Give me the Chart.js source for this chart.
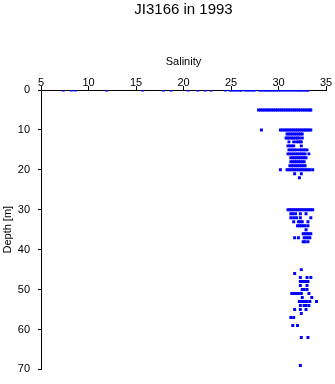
<!DOCTYPE html>
<html>
<head>
<meta charset="utf-8">
<script src="https://cdn.jsdelivr.net/npm/chart.js@4"></script>
<style>
  html, body { margin: 0; padding: 0; background: #fff; }
  #wrap { width: 335px; height: 384px; }
</style>
</head>
<body>
<div id="wrap"><canvas id="myChart" width="335" height="384"></canvas></div>
<script>
// depth levels [m] and the salinity readings seen at each level
const depthLevels = [0, 5, 10, 11, 12, 13, 14, 15, 16, 17, 18, 19, 20, 21, 22,
  30, 31, 32, 33, 34, 35, 36, 37, 38,
  45, 46, 47, 48, 49, 50, 51, 52, 53, 54, 55, 56, 57, 59, 62, 69];

const salinityAtLevel = [
  [7.35, 8.2, 8.6, 11.9, 15.7, 17.9, 18.7, 20.5, 21.5, 22.3, 22.9, 24.4,
   24.9, 25.1, 25.3, 25.5, 25.7, 25.9, 26.1, 26.5, 26.7, 26.9, 27.1, 27.3, 27.5,
   28.0, 28.2, 28.4, 28.6, 28.8, 29.0, 29.2, 29.4, 29.6, 29.8, 30.0, 30.2, 30.4,
   30.6, 30.8, 31.0, 31.2, 31.4, 31.6, 31.8, 32.0, 32.2, 32.4, 32.6, 32.8, 33.0, 33.1],
  [27.9, 28.1, 28.3, 28.5, 28.7, 28.9, 29.1, 29.3, 29.5, 29.7, 29.9, 30.1, 30.3,
   30.5, 30.7, 30.9, 31.1, 31.3, 31.5, 31.7, 31.9, 32.1, 32.3, 32.5, 32.7, 32.9,
   33.1, 33.3, 33.4],
  [28.2, 30.2, 30.4, 30.6, 30.8, 31.0, 31.2, 31.4, 31.6, 31.8, 32.0, 32.2, 32.4,
   32.6, 32.8, 33.0, 33.2, 33.4],
  [30.9, 31.1, 31.3, 31.5, 31.7, 31.9, 32.1, 32.3, 32.5],
  [30.8, 31.0, 31.2, 31.4, 31.6, 31.8, 32.0, 32.2, 32.5],
  [31.1, 31.6, 31.9, 32.1, 32.3, 32.4],
  [31.0, 31.2, 31.4, 31.6, 32.4],
  [31.1, 31.3, 31.5, 31.7, 31.9, 32.2, 32.4, 32.6, 32.8, 33.0],
  [31.0, 31.2, 31.4, 31.6, 31.8, 32.0, 32.2, 32.4, 32.6, 32.8, 33.2],
  [31.3, 31.5, 31.7, 31.9, 32.1, 32.3, 32.5, 32.7, 32.9],
  [31.3, 31.5, 31.7, 31.9, 32.1, 32.3, 32.5, 32.7],
  [31.2, 31.4, 31.6, 31.8, 32.0, 32.2, 32.4, 32.6, 32.8],
  [30.2, 30.9, 31.1, 31.3, 31.5, 31.7, 31.9, 32.1, 32.3, 32.5, 32.7, 32.9, 33.1,
   33.3, 33.6],
  [31.7, 32.4],
  [32.2],
  [31.0, 31.2, 31.4, 31.6, 31.8, 32.0, 32.2, 32.4, 32.6, 32.8, 33.0, 33.2, 33.4, 33.6],
  [31.3, 31.5, 31.8, 32.3, 32.9],
  [31.3, 31.6, 31.9, 32.3, 33.4],
  [31.6, 32.1, 32.3, 32.5, 33.1],
  [32.0, 32.2, 32.4, 32.6, 32.8, 33.1],
  [32.9],
  [32.6, 32.8, 33.0, 33.2, 33.4],
  [31.7, 32.1, 32.7, 32.9, 33.1, 33.3],
  [32.6, 32.8, 33.1],
  [32.4],
  [31.7],
  [32.3, 33.0, 33.4],
  [32.3, 32.5, 32.7, 32.9, 33.1],
  [32.3, 33.0],
  [32.5, 32.7, 33.0],
  [31.4, 31.6, 31.8, 32.1, 32.4, 33.2],
  [32.5, 33.5],
  [32.2, 32.4, 32.6, 32.8, 33.0, 33.3, 34.0],
  [32.3, 32.7, 32.9, 33.2],
  [31.7, 32.3, 32.9],
  [32.4],
  [31.3, 31.6],
  [31.5, 32.0],
  [32.4, 33.1],
  [32.3]
];

const salinityTicks = [5, 10, 15, 20, 25, 30, 35];
const depthTicks = [0, 10, 20, 30, 40, 50, 60, 70];
const chartTitle = 'JI3166 in 1993';

const points = [];
depthLevels.forEach((d, i) => {
  salinityAtLevel[i].forEach(s => points.push({ x: s, y: d }));
});

const font = 'Liberation Sans, Arial, Helvetica, sans-serif';
Chart.defaults.font.family = font;
Chart.defaults.color = '#000';

// title centred over the plot area, not the whole canvas
const plotTitle = {
  id: 'plotTitle',
  afterDraw(chart) {
    const { ctx, chartArea } = chart;
    ctx.save();
    ctx.font = '15px ' + font;
    ctx.fillStyle = '#000';
    ctx.textAlign = 'center';
    ctx.textBaseline = 'middle';
    ctx.fillText(chartTitle, (chartArea.left + chartArea.right) / 2, 10);
    ctx.restore();
  }
};

const ctx = document.getElementById('myChart');

new Chart(ctx, {
  type: 'scatter',
  data: {
    datasets: [{
      data: points,
      pointStyle: 'rect',
      pointRadius: 2.1,
      pointBorderWidth: 0,
      backgroundColor: '#0000ff',
      borderColor: '#0000ff'
    }]
  },
  options: {
    responsive: false,
    animation: false,
    layout: { padding: { left: 0, right: 9, top: 0, bottom: 10 } },
    plugins: {
      legend: { display: false },
      tooltip: { enabled: false },
      title: { display: false }
    },
    scales: {
      x: {
        type: 'linear',
        position: 'top',
        min: 5,
        max: 35,
        afterBuildTicks: s => { s.ticks = salinityTicks.map(v => ({ value: v })); },
        afterFit: s => { s.height = 90; },
        grid: { drawOnChartArea: false, drawTicks: true, tickLength: 4, color: '#000', lineWidth: 1 },
        border: { display: true, color: '#000', width: 1 },
        ticks: { padding: -4, font: { size: 11 }, color: '#000', maxRotation: 0 },
        title: { display: true, text: 'Salinity', font: { size: 11 }, color: '#000', padding: { top: 55, bottom: 0 } }
      },
      y: {
        type: 'linear',
        reverse: true,
        min: 0,
        max: 70,
        afterBuildTicks: s => { s.ticks = depthTicks.map(v => ({ value: v })); },
        afterFit: s => { s.width = 41; },
        grid: { drawOnChartArea: false, drawTicks: true, tickLength: 3, color: '#000', lineWidth: 1 },
        border: { display: true, color: '#000', width: 1 },
        ticks: { padding: 8, font: { size: 11 }, color: '#000' },
        title: { display: true, text: 'Depth [m]', font: { size: 11 }, color: '#000', padding: { top: 1, bottom: 0 } }
      }
    }
  },
  plugins: [plotTitle]
});
</script>
</body>
</html>
